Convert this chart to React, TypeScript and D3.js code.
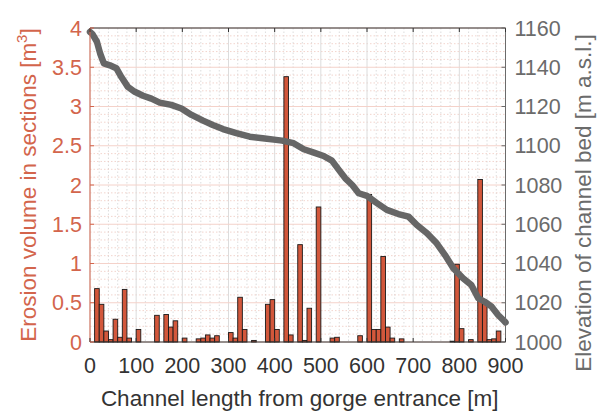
import React from 'react'
import * as d3 from 'd3'

// erosion per 10 m section (bin centre in m, volume in m^3)
const sectionPos = [
  15, 25, 35, 45, 55, 65, 75, 85, 105, 145, 165, 175, 185, 205, 235, 245, 255, 265, 275,
  305, 315, 325, 335, 355, 385, 395, 405, 425, 435, 455, 465, 475, 495, 525, 535, 585,
  605, 615, 625, 635, 645, 655, 675, 785, 795, 805, 825, 845, 855, 865, 875, 885,
];
const sectionVol = [
  0.68, 0.48, 0.14, 0.03, 0.29, 0.06, 0.67, 0.05, 0.16, 0.34, 0.35, 0.19, 0.27, 0.05, 0.04, 0.05, 0.09, 0.05, 0.08,
  0.12, 0.05, 0.57, 0.16, 0.02, 0.48, 0.54, 0.16, 3.38, 0.09, 1.24, 0.02, 0.43, 1.72, 0.05, 0.06, 0.08,
  1.88, 0.16, 0.16, 1.09, 0.19, 0.05, 0.04, 0.01, 0.99, 0.17, 0.03, 2.07, 0.49, 0.03, 0.04, 0.14,
];

// channel bed profile
const profileDist = [
  0, 5, 15, 22, 30, 43, 57, 68, 82, 97, 115, 133, 151, 176, 198, 220, 245, 266, 288, 317, 346,
  374, 403, 416, 441, 463, 485, 506, 524, 539, 553, 568, 582, 600, 620, 643, 668, 690, 708,
  730, 751, 769, 787, 808, 826, 841, 855, 870, 884, 895, 900,
];
const profileElev = [
  1158, 1157, 1153, 1147, 1142, 1141, 1139.5, 1135, 1130, 1127.5, 1125.5, 1124, 1122, 1120.8, 1119, 1115.7, 1112.8, 1110.6, 1108.5, 1106.4, 1104.6,
  1103.8, 1103, 1102.6, 1101.3, 1098.2, 1096.5, 1094.8, 1092.4, 1087.7, 1083.4, 1080, 1075.8, 1074.5, 1071, 1067.3, 1065.2, 1063.9, 1059.6,
  1055.4, 1050.3, 1044.3, 1037.6, 1032.5, 1029, 1022.3, 1020.5, 1018, 1013.8, 1011.2, 1010,
];

const xTicks = [0, 100, 200, 300, 400, 500, 600, 700, 800, 900];
const leftTicks = [0, 0.5, 1, 1.5, 2, 2.5, 3, 3.5, 4];
const rightTicks = [1000, 1020, 1040, 1060, 1080, 1100, 1120, 1140, 1160];

const width = 600;
const height = 412;
const left = 90;
const right = 505.5;
const top = 28;
const bottom = 342;
const binWidth = 10;

const orange = '#D3654C';
const barFill = '#D2573B';
const gray = '#6B6B6B';
const font = 'Liberation Sans, Arial, sans-serif';

const xScale = d3.scaleLinear().domain([0, 900]).range([left, right]);
const yLeft = d3.scaleLinear().domain([0, 4]).range([bottom, top]);
const yRight = d3.scaleLinear().domain([1000, 1160]).range([bottom, top]);

const profileLine = d3.line<number>()
  .x((d, i) => xScale(profileDist[i]))
  .y(d => yRight(d))
  .curve(d3.curveLinear);

const Grid = () => {
  const minorX = d3.range(0, 901, 20).filter(v => v % 100 !== 0);
  const minorY = d3.range(0, 4.001, 0.1).filter(v => Math.abs(v * 2 - Math.round(v * 2)) > 0.01);
  return (
    <g>
      {minorX.map(v => (
        <line key={'mx' + v} x1={xScale(v)} x2={xScale(v)} y1={top} y2={bottom}
          stroke='#d4d4d4' strokeWidth={0.8} strokeDasharray='1.5,2' />
      ))}
      {minorY.map(v => (
        <line key={'my' + v} x1={left} x2={right} y1={yLeft(v)} y2={yLeft(v)}
          stroke='#efc9c0' strokeWidth={0.8} strokeDasharray='1.5,2' />
      ))}
      {xTicks.map(v => (
        <line key={'gx' + v} x1={xScale(v)} x2={xScale(v)} y1={top} y2={bottom}
          stroke='#dcdcdc' strokeWidth={1} />
      ))}
      {leftTicks.map(v => (
        <line key={'gy' + v} x1={left} x2={right} y1={yLeft(v)} y2={yLeft(v)}
          stroke='#f4d2ca' strokeWidth={1} />
      ))}
    </g>
  );
};

const Bars = () => (
  <g>
    {sectionPos.map((p, i) => (
      <rect
        key={i}
        x={xScale(p - binWidth / 2)}
        y={yLeft(sectionVol[i])}
        width={xScale(p + binWidth / 2) - xScale(p - binWidth / 2)}
        height={yLeft(0) - yLeft(sectionVol[i])}
        fill={barFill}
        stroke='#1a1a1a'
        strokeWidth={0.9}
      />
    ))}
  </g>
);

const Axes = () => (
  <g fontFamily={font} fontSize={21.5}>
    {/* box */}
    <line x1={left} x2={right} y1={top} y2={top} stroke='#333' strokeWidth={1} />
    <line x1={left} x2={right} y1={bottom} y2={bottom} stroke='#333' strokeWidth={1} />
    <line x1={left} x2={left} y1={top} y2={bottom} stroke={orange} strokeWidth={1} />
    <line x1={right} x2={right} y1={top} y2={bottom} stroke={gray} strokeWidth={1} />

    {xTicks.map(v => (
      <g key={'xt' + v}>
        <line x1={xScale(v)} x2={xScale(v)} y1={bottom} y2={bottom - 4} stroke='#333' />
        <line x1={xScale(v)} x2={xScale(v)} y1={top} y2={top + 4} stroke='#333' />
        <text x={xScale(v)} y={bottom + 31} textAnchor='middle' fill='#333'>{v}</text>
      </g>
    ))}
    {leftTicks.map(v => (
      <g key={'lt' + v}>
        <line x1={left} x2={left + 4} y1={yLeft(v)} y2={yLeft(v)} stroke={orange} />
        <text x={left - 8} y={yLeft(v)} dy='0.35em' textAnchor='end' fill={orange}>{v}</text>
      </g>
    ))}
    {rightTicks.map(v => (
      <g key={'rt' + v}>
        <line x1={right} x2={right - 4} y1={yRight(v)} y2={yRight(v)} stroke={gray} />
        <text x={right + 9} y={yRight(v)} dy='0.35em' textAnchor='start' fill={gray}>{v}</text>
      </g>
    ))}

    <text x={(left + right) / 2 + 2} y={406} textAnchor='middle' fontSize={22.5} fill='#333'>
      Channel length from gorge entrance [m]
    </text>
    <text transform={`translate(36, ${(top + bottom) / 2}) rotate(-90)`} textAnchor='middle'
      fontSize={22.5} fill={orange}>
      Erosion volume in sections [m<tspan dy={-9} fontSize={15}>3</tspan><tspan dy={9}>]</tspan>
    </text>
    <text transform={`translate(591, ${(top + bottom) / 2 + 18}) rotate(-90)`} textAnchor='middle'
      fontSize={22.5} fill={gray}>
      Elevation of channel bed [m a.s.l.]
    </text>
  </g>
);

const App = () => (
  <svg width={width} height={height} style={{ position: 'absolute', left: 0, top: 0, background: '#fff' }}>
    <Grid />
    <Bars />
    <path d={profileLine(profileElev) || ''} fill='none' stroke='#666' strokeWidth={6.5}
      strokeLinejoin='round' strokeLinecap='round' />
    <Axes />
  </svg>
);

export default App
